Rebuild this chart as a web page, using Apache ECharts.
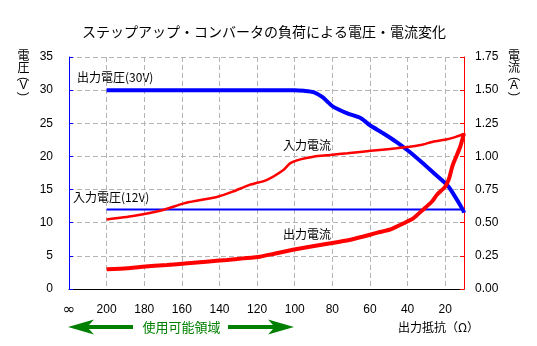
<!DOCTYPE html>
<html>
<head>
<meta charset="utf-8">
<script src="https://cdn.jsdelivr.net/npm/echarts@6/dist/echarts.min.js"></script>
<style>
html,body{margin:0;padding:0;background:#fff;}
#c{width:537px;height:346px;}
</style>
</head>
<body>
<div id="c"></div>
<script>
// ---- data (resistance in ohms; left axis V, right axis A) ----
const xTickLabels = ['∞','200','180','160','140','120','100','80','60','40','20'];
const X_INF = 220; // position of the "∞" tick on the resistance scale

const outVoltR = [200, 100, 95, 90, 85, 80, 72, 65, 60, 53, 46, 39, 32, 26.5, 19, 16, 10.5, 10];
const outVolt  = [30, 30, 29.9, 29.7, 28.9, 27.6, 26.5, 25.8, 24.7, 23.5, 22.2, 20.7, 19, 17.6, 15.7, 14.5, 11.9, 11.5];

const inVoltR = [200, 10];
const inVolt  = [12, 12];

const inCurR = [200, 186, 170, 159, 150, 141, 133, 124, 115, 106, 102.5, 97, 90, 81, 72, 64, 55, 46, 39, 33, 26.5, 19, 14, 10];
const inCur  = [0.525, 0.551, 0.596, 0.646, 0.671, 0.696, 0.734, 0.785, 0.822, 0.898, 0.948, 0.978, 0.998, 1.011, 1.024, 1.036, 1.049, 1.061, 1.073, 1.086, 1.111, 1.129, 1.149, 1.169];

const outCurR = [200, 189, 181, 168, 157, 147, 136, 127.5, 118.5, 111.5, 104, 98, 92, 81, 71, 64, 56, 49, 42, 37, 32, 27, 24.5, 20, 18, 16, 12, 10];
const outCur  = [0.149, 0.156, 0.168, 0.181, 0.194, 0.206, 0.219, 0.231, 0.244, 0.264, 0.287, 0.304, 0.319, 0.345, 0.370, 0.394, 0.425, 0.45, 0.496, 0.533, 0.596, 0.66, 0.709, 0.772, 0.83, 0.935, 1.073, 1.174];

const toPts = (rs, vs) => rs.map((r, i) => [X_INF - r, vs[i]]);

const FONT = '"Noto Sans CJK JP", "Noto Sans", sans-serif';
const NUMFONT = '"Liberation Sans", Arial, sans-serif';
const GREEN = '#008000';

const chart = echarts.init(document.getElementById('c'), null, {renderer: 'canvas'});

function txt(x, y, s, opts, extra) {
  return Object.assign({
    type: 'text', x: x, y: y,
    style: Object.assign({text: s, fill: '#000', font: '12px ' + FONT, align: 'left', verticalAlign: 'middle'}, opts || {})
  }, extra || {});
}
function vAxisName(cx, c1, c2, unit) {
  return [
    txt(cx, 55, c1, {align: 'center'}),
    txt(cx, 67, c2, {align: 'center'}),
    txt(cx, 79, '(', {align: 'center', font: '12px ' + NUMFONT}, {rotation: -Math.PI / 2}),
    txt(cx, 86, unit, {align: 'center', font: '12px ' + NUMFONT}),
    txt(cx, 94, ')', {align: 'center', font: '12px ' + NUMFONT}, {rotation: -Math.PI / 2})
  ];
}
function arrowHead(tipX, y, dir) {
  const d = -dir;
  return {
    type: 'polygon',
    shape: {points: [
      [tipX, y],
      [tipX + d * 26, y - 7.5],
      [tipX + d * 21, y - 2],
      [tipX + d * 21, y + 2],
      [tipX + d * 26, y + 7.5]
    ]},
    style: {fill: GREEN}
  };
}

const option = {
  animation: false,
  backgroundColor: '#fff',
  title: {
    text: 'ステップアップ・コンバータの負荷による電圧・電流変化',
    left: 259, top: 20, textAlign: 'center',
    textStyle: {fontFamily: FONT, fontSize: 14, fontWeight: 'normal', color: '#000'}
  },
  grid: {left: 69, right: 73, top: 57, bottom: 57, containLabel: false},
  xAxis: {
    type: 'value', min: 0, max: X_INF - 10, interval: 20,
    axisLine: {show: true, lineStyle: {color: '#000', width: 1}},
    axisTick: {show: false},
    axisLabel: {
      color: '#000', fontFamily: NUMFONT, fontSize: 12, margin: 14, lineHeight: 14,
      formatter: (v, i) => {
        if (xTickLabels[i] === undefined || Math.abs(v - i * 20) > 1e-6) return '';
        return i === 0 ? '{inf|' + xTickLabels[i] + '}' : xTickLabels[i];
      },
      rich: {inf: {fontFamily: 'DejaVu Sans', fontSize: 15, lineHeight: 14, color: '#000'}}
    },
    splitLine: {show: true, lineStyle: {color: '#b4b4b4', type: [5, 3], width: 1}}
  },
  yAxis: [
    {
      type: 'value', min: 0, max: 35, interval: 5, position: 'left',
      axisLine: {show: true, lineStyle: {color: '#0000ff', width: 1}},
      axisTick: {show: true, inside: true, length: 4, lineStyle: {color: '#0000ff'}},
      axisLabel: {color: '#000', fontFamily: NUMFONT, fontSize: 12, margin: 16},
      splitLine: {show: true, lineStyle: {color: '#b4b4b4', type: [5, 3], width: 1}}
    },
    {
      type: 'value', min: 0, max: 1.75, interval: 0.25, position: 'right',
      axisLine: {show: true, lineStyle: {color: '#ff0000', width: 1}},
      axisTick: {show: true, inside: true, length: 4, lineStyle: {color: '#ff0000'}},
      axisLabel: {color: '#000', fontFamily: NUMFONT, fontSize: 12, margin: 11, formatter: v => v.toFixed(2)},
      splitLine: {show: false}
    }
  ],
  series: [
    {name: '出力電圧', type: 'line', yAxisIndex: 0, data: toPts(outVoltR, outVolt), showSymbol: false, smooth: 0.2,
      lineStyle: {color: '#0000ff', width: 4}, z: 3},
    {name: '入力電圧', type: 'line', yAxisIndex: 0, data: toPts(inVoltR, inVolt), showSymbol: false,
      lineStyle: {color: '#0000ff', width: 2}, z: 3},
    {name: '入力電流', type: 'line', yAxisIndex: 1, data: toPts(inCurR, inCur), showSymbol: false, smooth: 0.2,
      lineStyle: {color: '#ff0000', width: 2.5}, z: 4},
    {name: '出力電流', type: 'line', yAxisIndex: 1, data: toPts(outCurR, outCur), showSymbol: false, smooth: 0.2,
      lineStyle: {color: '#ff0000', width: 4}, z: 4}
  ],
  graphic: [].concat(
    vAxisName(23.5, '電', '圧', 'V'),
    vAxisName(514, '電', '流', 'A'),
    [
      txt(77, 77, '出力電圧(30V)'),
      txt(73, 197, '入力電圧(12V)'),
      txt(283, 145, '入力電流'),
      txt(283, 234, '出力電流'),
      txt(398, 327, '出力抵抗（Ω）'),
      txt(181.5, 327, '使用可能領域', {align: 'center', fill: GREEN, font: '13px ' + FONT}),
      {type: 'rect', shape: {x: 89, y: 325, width: 44, height: 4}, style: {fill: GREEN}},
      arrowHead(68, 327, -1),
      {type: 'rect', shape: {x: 228, y: 325, width: 45, height: 4}, style: {fill: GREEN}},
      arrowHead(294, 327, 1)
    ]
  )
};
chart.setOption(option);
</script>
</body>
</html>
